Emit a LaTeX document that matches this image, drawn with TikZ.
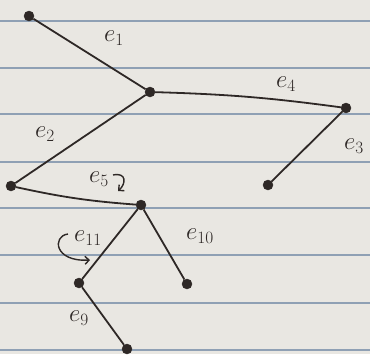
\documentclass[tikz,border=0pt]{standalone}
\usepackage{amsmath}
\usepackage{tikz}
\usetikzlibrary{arrows.meta}

\begin{document}
\begin{tikzpicture}[x=1pt, y=-1pt,
                    main/.style = {
                        draw=ink, fill=ink, circle, minimum size=10pt, inner sep=0pt
                    },
                    edge/.style = {ink, line width=1.8pt},
                    lab/.style = {text=ink, font=\fontsize{26}{28}\selectfont},
                    rule/.style = {draw=paperline, line width=1.3pt}
                ]
                    % Colours of the paper and the pencil
                    \definecolor{ink}{HTML}{2E2826}
                    \definecolor{paper}{HTML}{E9E7E2}
                    \definecolor{paperline}{HTML}{8FA0B4}

                    % Paper
                    \fill[paper] (0,0) rectangle (370,354);
                    \useasboundingbox (0,0) rectangle (370,354);
                    \foreach \y in {21,68,114,162,208,255,303,350}
                        \draw[rule] (0,\y) -- (370,\y);

                    % Nodes
                    \node[main] (A) at (29,16) {};
                    \node[main] (B) at (150,92) {};
                    \node[main] (C) at (346,108) {};
                    \node[main] (D) at (268,185) {};
                    \node[main] (E) at (11,186) {};
                    \node[main] (F) at (141,205) {};
                    \node[main] (G) at (79,283) {};
                    \node[main] (H) at (187,284) {};
                    \node[main] (I) at (127,349) {};

                    % Edges
                    \draw[edge] (A) -- (B);
                    \draw[edge] (B) to[bend left=3] (C);
                    \draw[edge] (C) -- (D);
                    \draw[edge] (B) -- (E);
                    \draw[edge] (E) to[bend right=4] (F);
                    \draw[edge] (F) -- (G);
                    \draw[edge] (F) -- (H);
                    \draw[edge] (G) -- (I);

                    % Labels
                    \node[lab] (l1) at (114,38) {$e_1$};
                    \node[lab] (l4) at (286,84) {$e_4$};
                    \node[lab] (l3) at (354,146) {$e_3$};
                    \node[lab] (l2) at (45,134) {$e_2$};
                    \node[lab] (l5) at (99,179) {$e_5$};
                    \node[lab] (l10) at (200,236) {$e_{10}$};
                    \node[lab] (l11) at (88,238) {$e_{11}$};
                    \node[lab] (l9) at (79,318) {$e_9$};

                    % Small curved arrows
                    \coordinate (s5) at (113,175);
                    \coordinate (t5) at (118,191);
                    \draw[ink, line width=1.4pt, -{Straight Barb[length=4pt]}]
                        (s5) .. controls (127,172) and (126,184) .. (t5);
                    \coordinate (s11) at (68,234);
                    \coordinate (t11) at (90,260);
                    \draw[ink, line width=1.4pt, -{Straight Barb[length=4pt]}]
                        (s11) .. controls (52,236) and (54,262) .. (t11);
                \end{tikzpicture}
\end{document}
